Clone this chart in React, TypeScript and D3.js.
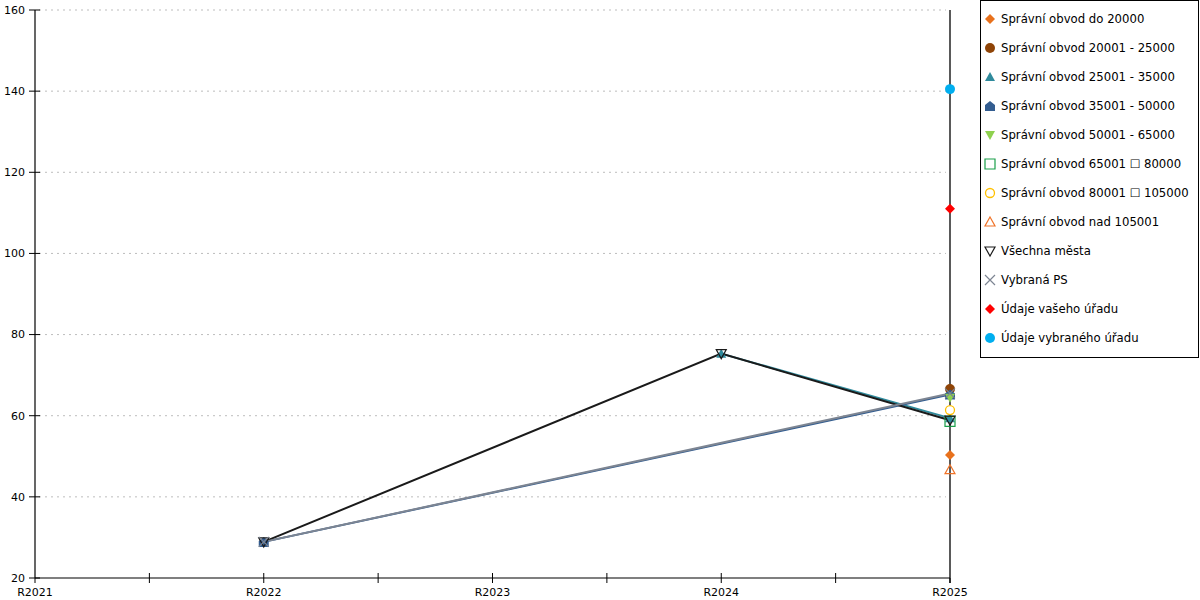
import * as d3 from "d3";

const categories = ["R2021", "R2022", "R2023", "R2024", "R2025"];
const yTicks = [20, 40, 60, 80, 100, 120, 140, 160];

type V = number | null;

const do20000: V[] = [null, null, null, null, 50.3];
const s20001: V[] = [null, null, null, null, 66.6];
const s25001: V[] = [null, null, null, 75.3, 59.4];
const s35001: V[] = [null, 28.9, null, null, 65.2];
const s50001: V[] = [null, null, null, null, 64.4];
const s65001: V[] = [null, null, null, null, 58.6];
const s80001: V[] = [null, null, null, null, 61.4];
const nad105001: V[] = [null, null, null, null, 46.7];
const vsechnaMesta: V[] = [null, 28.9, null, 75.3, 58.9];
const vybranaPS: V[] = [null, 28.9, null, null, 65.5];
const vasUrad: V[] = [null, null, null, null, 111];
const vybranyUrad: V[] = [null, null, null, null, 140.5];

type Shape = "diamond" | "circle" | "triUp" | "house" | "triDown" | "square" | "x";

const series: { name: string; values: V[]; color: string; shape: Shape; filled: boolean }[] = [
  { name: "Správní obvod do 20000", values: do20000, color: "#e8711c", shape: "diamond", filled: true },
  { name: "Správní obvod 20001 - 25000", values: s20001, color: "#8f4407", shape: "circle", filled: true },
  { name: "Správní obvod 25001 - 35000", values: s25001, color: "#2f8a9c", shape: "triUp", filled: true },
  { name: "Správní obvod 35001 - 50000", values: s35001, color: "#335d90", shape: "house", filled: true },
  { name: "Správní obvod 50001 - 65000", values: s50001, color: "#8fd14f", shape: "triDown", filled: true },
  { name: "Správní obvod 65001 \u2610 80000", values: s65001, color: "#1a9f4a", shape: "square", filled: false },
  { name: "Správní obvod 80001 \u2610 105000", values: s80001, color: "#ffc000", shape: "circle", filled: false },
  { name: "Správní obvod nad 105001", values: nad105001, color: "#f07328", shape: "triUp", filled: false },
  { name: "Všechna města", values: vsechnaMesta, color: "#1a1a1a", shape: "triDown", filled: false },
  { name: "Vybraná PS", values: vybranaPS, color: "#7d8592", shape: "x", filled: false },
  { name: "Údaje vašeho úřadu", values: vasUrad, color: "#ff0000", shape: "diamond", filled: true },
  { name: "Údaje vybraného úřadu", values: vybranyUrad, color: "#00aeef", shape: "circle", filled: true },
];

const shapePath: Record<Shape, string> = {
  diamond: "M0,-5L5,0L0,5L-5,0Z",
  circle: d3.symbol(d3.symbolCircle, 78)()!,
  triUp: "M0,-5L5,4L-5,4Z",
  house: "M0,-5L5,-1L5,5L-5,5L-5,-1Z",
  triDown: "M-5,-4L5,-4L0,5Z",
  square: "M-5,-5H5V5H-5Z",
  x: "M-5,-5L5,5M5,-5L-5,5",
};

const font = "DejaVu Sans, Verdana, sans-serif";

function Marker({ s, x, y }: { s: (typeof series)[number]; x: number; y: number }) {
  const openCircle = s.shape === "circle" && !s.filled;
  return openCircle ? (
    <circle cx={x} cy={y} r={4.5} fill="#fff" stroke={s.color} strokeWidth={1.3} />
  ) : (
    <path
      d={shapePath[s.shape]}
      transform={`translate(${x},${y})`}
      fill={s.filled ? s.color : "none"}
      stroke={s.color}
      strokeWidth={s.filled ? 0 : 1.2}
    />
  );
}

export default function App() {
  const left = 35;
  const right = 950;
  const top = 10;
  const bottom = 578;

  const x = d3.scalePoint<string>().domain(categories).range([left, right]);
  const y = d3.scaleLinear().domain([20, 160]).range([bottom, top]);
  const step = x.step();
  const midTicks = categories.slice(0, -1).map((c) => x(c)! + step / 2);

  const line = d3
    .line<{ c: string; v: number }>()
    .x((d) => x(d.c)!)
    .y((d) => y(d.v));

  const pts = (vals: V[]) =>
    vals
      .map((v, i) => ({ c: categories[i], v }))
      .filter((d): d is { c: string; v: number } => d.v !== null);

  // series that are joined by lines, in drawing order
  const lineOrder = [2, 3, 8, 9];

  return (
    <svg
      width={1200}
      height={600}
      style={{ position: "absolute", left: 0, top: 0, background: "#fff" }}
      fontFamily={font}
    >
      {/* grid */}
      {yTicks.slice(1).map((t) => (
        <line
          key={t}
          x1={left + 4}
          x2={right - 4}
          y1={y(t)}
          y2={y(t)}
          stroke="#bdbdbd"
          strokeDasharray="2,4"
        />
      ))}

      {/* y axis */}
      <line x1={left} x2={left} y1={top} y2={bottom} stroke="#000" strokeWidth={1.2} />
      {yTicks.map((t) => (
        <g key={t}>
          <line x1={left - 6} x2={left + 5} y1={y(t)} y2={y(t)} stroke="#000" />
          <text x={left - 10} y={y(t)} dy="0.35em" textAnchor="end" fontSize={11} fill="#000">
            {t}
          </text>
        </g>
      ))}

      {/* right line */}
      <line x1={right} x2={right} y1={top} y2={bottom + 5} stroke="#000" strokeWidth={1.3} />

      {/* x axis */}
      <line x1={left} x2={right} y1={bottom} y2={bottom} stroke="#000" strokeWidth={1.2} />
      {categories.map((c, i) => (
        <g key={c}>
          <line
            x1={x(c)}
            x2={x(c)}
            y1={i === 0 || i === categories.length - 1 ? bottom : bottom - 5}
            y2={bottom + 5}
            stroke="#000"
          />
          <text x={x(c)} y={bottom + 18} textAnchor="middle" fontSize={11} fill="#000">
            {c}
          </text>
        </g>
      ))}
      {midTicks.map((m) => (
        <line key={m} x1={m} x2={m} y1={bottom - 5} y2={bottom + 5} stroke="#000" />
      ))}

      {/* lines */}
      {lineOrder.map((i) => {
        const s = series[i];
        const p = pts(s.values);
        return p.length > 1 ? (
          <path key={s.name} d={line(p)!} fill="none" stroke={s.color} strokeWidth={2} />
        ) : null;
      })}

      {/* markers */}
      {series.map((s) =>
        pts(s.values).map((d) => (
          <Marker key={s.name + d.c} s={s} x={x(d.c)!} y={y(d.v)} />
        ))
      )}

      {/* legend */}
      <rect x={980.5} y={0.5} width={218} height={357} fill="#fff" stroke="#000" />
      {series.map((s, i) => (
        <g key={s.name}>
          <Marker s={s} x={990} y={19 + i * 29} />
          <text x={1001} y={19 + i * 29} dy="0.35em" fontSize={11.7} fill="#000">
            {s.name}
          </text>
        </g>
      ))}
    </svg>
  );
}
